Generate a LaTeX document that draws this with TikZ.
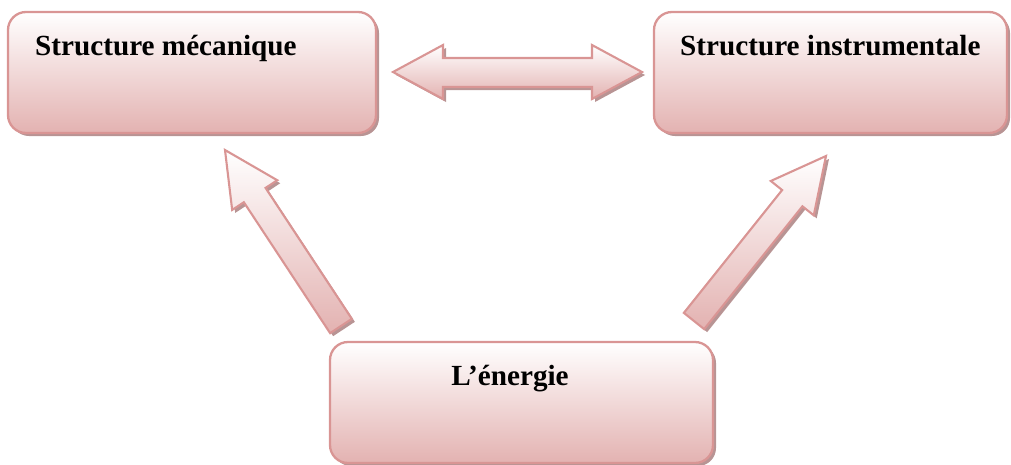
\documentclass[tikz,border=0pt]{standalone}
\usepackage{fontspec}
\setmainfont{Liberation Serif}
\usetikzlibrary{calc,shadows}
\definecolor{rimc}{HTML}{D99594}
\definecolor{lowc}{HTML}{E3B2B1}
\definecolor{shadowc}{HTML}{B89494}
\tikzset{
  x=1pt, y=-1pt,
  panel/.style={draw=rimc, line width=2.3pt, rounded corners=18pt,
    top color=white, bottom color=lowc,
    drop shadow={shadow xshift=3pt, shadow yshift=-3pt, fill=shadowc, opacity=1}},
  blockarrow/.style={draw=rimc, line width=2.1pt, line join=miter,
    top color=white, bottom color=lowc,
    drop shadow={shadow xshift=3pt, shadow yshift=-3pt, fill=shadowc, opacity=1}},
  label/.style={font=\bfseries\fontsize{29.2}{32}\selectfont, inner sep=0pt, text=black},
}
% single block arrow from a tail point to a tip point
% #1 tail, #2 tip, #3 shaft half width, #4 head half width, #5 head length
\newcommand{\blockarr}[5]{%
  \path[blockarrow]
    coordinate (hb) at ($(#2)!#5!(#1)$)
    ($(#1)!#3!90:(#2)$) -- ($(hb)!#3!-90:(#1)$) -- ($(hb)!#4!-90:(#1)$)
    -- (#2) -- ($(hb)!#4!90:(#1)$) -- ($(hb)!#3!90:(#1)$)
    -- ($(#1)!#3!-90:(#2)$) -- cycle;}
\begin{document}
\begin{tikzpicture}
\useasboundingbox (0,0) rectangle (1011,464);

% the three panels
\path[panel] (8,12) rectangle (376,133);
\path[panel] (654,12) rectangle (1007,133);
\path[panel] (330,342) rectangle (713,463);
\node[label, anchor=base west] (meca) at (35,55) {Structure mécanique};
\node[label, anchor=base west] (instr) at (680,55) {Structure instrumentale};
\node[label, anchor=base] (energ) at (510,385) {L’énergie};

% two-headed arrow between the upper panels
\coordinate (dl) at (393,72);
\coordinate (dr) at (642,72);
\path[blockarrow] (dl) -- (443,45) -- (443,58) -- (592,58) -- (592,45)
  -- (dr) -- (592,99) -- (592,87) -- (443,87) -- (443,99) -- cycle;

% arrows from the energy panel up to each structure
\coordinate (lt) at (341,326);
\coordinate (lh) at (225,150);
\coordinate (rt) at (694,321);
\coordinate (rh) at (826,156);
\blockarr{lt}{lh}{13pt}{27pt}{54pt}
\blockarr{rt}{rh}{13pt}{27.5pt}{54pt}
\end{tikzpicture}
\end{document}
